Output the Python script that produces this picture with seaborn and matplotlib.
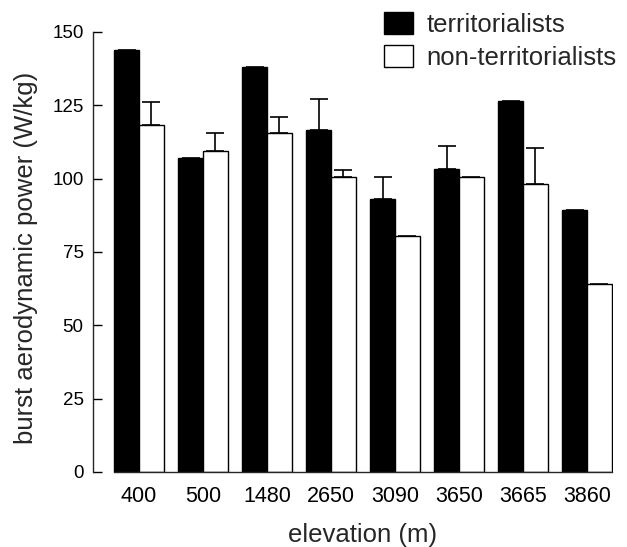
import numpy as np
import pandas as pd
import matplotlib
matplotlib.use("Agg")
import matplotlib.pyplot as plt
from matplotlib.patches import Patch
import seaborn as sns

elevations = ["400", "500", "1480", "2650", "3090", "3650", "3665", "3860"]
groups = ["territorialists", "non-territorialists"]
terr_values = [144.0, 106.9, 138.0, 116.7, 92.9, 103.4, 126.5, 89.4]
nonterr_values = [118.3, 109.5, 115.7, 100.5, 80.3, 100.5, 98.1, 64.2]
terr_err = [np.nan, np.nan, np.nan, 10.3, 7.7, 7.7, np.nan, np.nan]
nonterr_err = [7.8, 6.0, 5.2, 2.6, np.nan, np.nan, 12.5, np.nan]
y_ticks = [0, 25, 50, 75, 100, 125, 150]

df = pd.DataFrame({
    "elevation": elevations * 2,
    "group": [groups[0]] * len(elevations) + [groups[1]] * len(elevations),
    "power": terr_values + nonterr_values,
})

sns.set_style("ticks")
plt.rcParams["font.family"] = ["Liberation Sans", "DejaVu Sans"]

W, H = 627, 547
fig = plt.figure(figsize=(W / 100, H / 100), dpi=100)
ax = fig.add_axes([93.3 / W, 1 - 472 / H, (612.6 - 93.3) / W, (472 - 32) / H])

sns.barplot(data=df, x="elevation", y="power", hue="group", order=elevations,
            hue_order=groups, palette=["black", "white"], edgecolor="black",
            linewidth=1.0, width=0.766, errorbar=None, legend=False, ax=ax,
            saturation=1)

for cont, errs in zip(ax.containers, [terr_err, nonterr_err]):
    xs = [b.get_x() + b.get_width() / 2 for b in cont]
    ys = [b.get_height() for b in cont]
    e = np.array(errs)
    ax.errorbar(xs, ys, yerr=[np.zeros_like(e), e], fmt="none", ecolor="black",
                elinewidth=1.2, capsize=6.3, capthick=1.2, zorder=1)

ax.set_xlim(-0.714, 7.40)
ax.set_ylim(0, 150)
ax.set_yticks(y_ticks)
ax.set_yticklabels([str(t) for t in y_ticks])
sns.despine(ax=ax, top=True, right=True)
ax.spines["bottom"].set_bounds(-0.383, 7.383)
ax.spines["left"].set_linewidth(1.0)
ax.spines["bottom"].set_linewidth(1.0)
ax.tick_params(axis="y", direction="in", length=6.5, width=1.0, pad=7,
               labelsize=13.5, colors="black")
ax.tick_params(axis="x", length=0, pad=10, labelsize=15.5, colors="black")

ax.set_xlabel("elevation (m)", fontsize=18.5)
ax.set_ylabel("burst aerodynamic power (W/kg)", fontsize=18.5)
ax.xaxis.set_label_coords(0.518, -0.115)
ax.yaxis.set_label_coords(-0.1066, 0.486)

handles = [Patch(facecolor="black", edgecolor="black", linewidth=1.0),
           Patch(facecolor="white", edgecolor="black", linewidth=1.0)]
fig.legend(handles, groups, loc="upper left",
           bbox_to_anchor=(384 / W, 1 - 12 / H), frameon=False, fontsize=18.5,
           handlelength=1.13, handleheight=0.93, handletextpad=0.52,
           labelspacing=0.33, borderpad=0, borderaxespad=0)

fig.savefig("out.png", dpi=100)
